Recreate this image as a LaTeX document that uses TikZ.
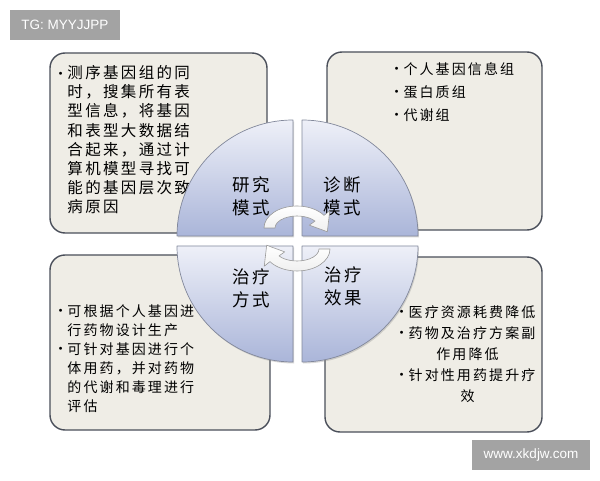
\documentclass[tikz,border=0pt]{standalone}
\usepackage{fontspec}
\newfontfamily\cjk{Noto Sans CJK SC}[LetterSpace=15]
\newfontfamily\wmfont{Liberation Sans}
\usetikzlibrary{shadows}
\definecolor{boxfill}{RGB}{239,237,230}
\definecolor{boxline}{RGB}{74,79,90}
\definecolor{quadtop}{RGB}{238,240,248}
\definecolor{quadbot}{RGB}{170,181,217}
\definecolor{quadline}{RGB}{130,136,155}
\definecolor{wmgray}{RGB}{163,163,163}
\newcommand\bul{\makebox[9pt][l]{\raisebox{3.5pt}{\scriptsize$\bullet$}}}
\newcommand\ind{\hspace*{9pt}}
\tikzset{
  infobox/.style={draw=boxline,line width=1.4pt,fill=boxfill,rounded corners=15pt,inner sep=0pt},
  itemtext/.style={inner sep=0pt,align=left,font=\cjk\fontsize{14pt}{19pt}\selectfont},
  quad/.style={draw=quadline,line width=0.7pt,top color=quadtop,bottom color=quadbot,
    drop shadow={opacity=0.3,shadow xshift=1pt,shadow yshift=-1.5pt}},
  quadlabel/.style={align=center,inner sep=0pt,font=\cjk\fontsize{17.5pt}{23pt}\selectfont},
  wmark/.style={fill=wmgray,text=white,inner sep=0pt,font=\wmfont\fontsize{13.5pt}{16pt}\selectfont},
  turnarrow/.pic={
    \draw[draw=gray!80,top color=white,bottom color=gray!12,line width=0.6pt,line join=round]
      (180:33 and 22) arc[start angle=180,end angle=35,x radius=33,y radius=22]
      -- (35:40 and 30) -- (-12:31 and 18) -- (35:15 and 5) -- (35:22 and 12)
      arc[start angle=35,end angle=180,x radius=22,y radius=12] -- cycle;
  }
}
\begin{document}
\begin{tikzpicture}[x=1pt,y=1pt,line join=round]
  \useasboundingbox[fill=white] (0,0) rectangle (600,480);

  % four info boxes
  \node[infobox,minimum width=217pt,minimum height=180pt] (yjbox) at (158.5,337) {};
  \node[infobox,minimum width=215pt,minimum height=178pt] (zdbox) at (434.5,339) {};
  \node[infobox,minimum width=220pt,minimum height=175pt] (fsbox) at (160,137.5) {};
  \node[infobox,minimum width=217pt,minimum height=175pt] (xgbox) at (433.5,135.5) {};

  \node[itemtext,anchor=north west,font=\cjk\fontsize{15.5pt}{19.2pt}\selectfont] (yjtext)
    at ([shift={(9,-13)}]yjbox.north west)
    {\bul 测序基因组的同\\ \ind 时，搜集所有表\\ \ind 型信息，将基因\\ \ind 和表型大数据结\\
     \ind 合起来，通过计\\ \ind 算机模型寻找可\\ \ind 能的基因层次致\\ \ind 病原因};
  \node[itemtext,anchor=north west,font=\cjk\fontsize{14pt}{23pt}\selectfont] (zdtext)
    at ([shift={(68,-11)}]zdbox.north west)
    {\bul 个人基因信息组\\ \bul 蛋白质组\\ \bul 代谢组};
  \node[itemtext,anchor=north west] (fstext) at ([shift={(9,-50)}]fsbox.north west)
    {\bul 可根据个人基因进\\ \ind 行药物设计生产\\ \bul 可针对基因进行个\\ \ind 体用药，并对药物\\
     \ind 的代谢和毒理进行\\ \ind 评估};
  \node[itemtext,anchor=north,align=center,font=\cjk\fontsize{14pt}{21pt}\selectfont] (xgtext)
    at ([shift={(34,-49)}]xgbox.north)
    {\bul 医疗资源耗费降低\\ \bul 药物及治疗方案副\\ 作用降低\\ \bul 针对性用药提升疗\\ 效};

  % quarter discs
  \coordinate (qtl) at (293,244);
  \coordinate (qtr) at (302,244);
  \coordinate (qbl) at (293,234);
  \coordinate (qbr) at (302,234);
  \path[quad] (qtl) -- ++(-116,0) arc[start angle=180,end angle=90,radius=116] -- cycle;
  \path[quad] (qtr) -- ++(116,0) arc[start angle=0,end angle=90,radius=116] -- cycle;
  \path[quad] (qbl) -- ++(-116,0) arc[start angle=180,end angle=270,radius=116] -- cycle;
  \path[quad] (qbr) -- ++(116,0) arc[start angle=0,end angle=-90,radius=116] -- cycle;

  \node[quadlabel] (yjms) at (251,284) {研究\\模式};
  \node[quadlabel] (zdms) at (342,284) {诊断\\模式};
  \node[quadlabel] (zlfs) at (251,191.5) {治疗\\方式};
  \node[quadlabel] (zlxg) at (343,193.5) {治疗\\效果};

  % turning arrows
  \pic at (297,252) {turnarrow};
  \pic[rotate=180] at (297,231) {turnarrow};

  % corner marks
  \node[wmark,minimum width=110pt,minimum height=30pt] (tgmark) at (65,455) {TG: MYYJJPP};
  \node[wmark,minimum width=118pt,minimum height=30pt] (sitemark) at (531,25) {www.xkdjw.com};
\end{tikzpicture}
\end{document}
